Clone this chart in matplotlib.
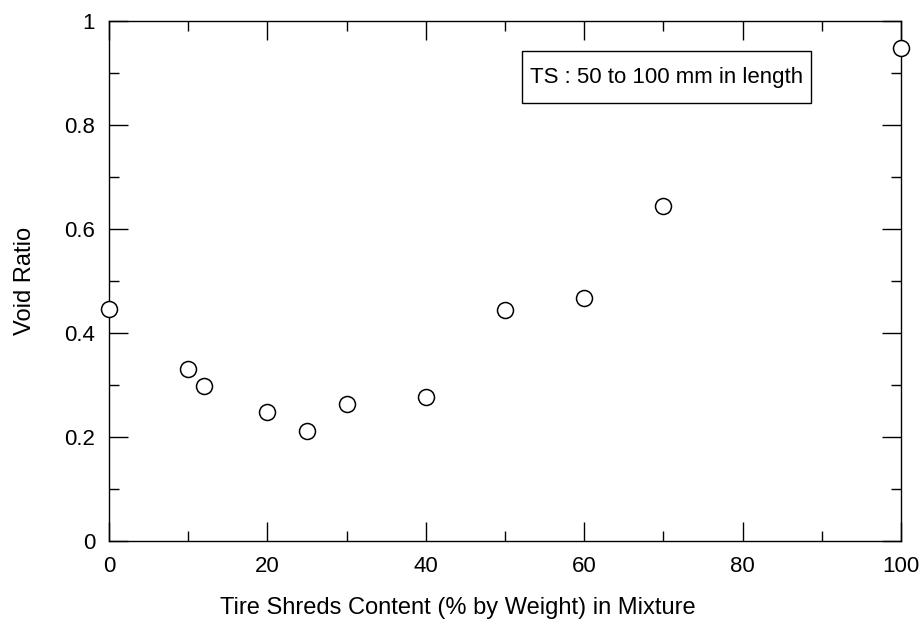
import matplotlib
matplotlib.use("Agg")
import matplotlib.pyplot as plt
from matplotlib.patches import Rectangle
from matplotlib.ticker import MultipleLocator

plt.rcParams["font.family"] = ["Liberation Sans", "DejaVu Sans"]
plt.rcParams["font.size"] = 16

# tire shred content (%) vs measured void ratio
content = [0, 10, 12, 20, 25, 30, 40, 50, 60, 70, 100]
void_ratio = [0.446, 0.331, 0.298, 0.248, 0.212, 0.263, 0.277, 0.444, 0.467, 0.644, 0.948]

fig = plt.figure(figsize=(9.24, 6.34), dpi=100)
ax = fig.add_axes([0.118, 0.147, 0.857, 0.820])

ax.plot(content, void_ratio, linestyle="none", marker="o", markersize=11.5,
        markerfacecolor="white", markeredgecolor="black", markeredgewidth=1.1,
        clip_on=False, zorder=3)

ax.set_xlim(0, 100)
ax.set_ylim(0, 1)
ax.xaxis.set_major_locator(MultipleLocator(20))
ax.xaxis.set_minor_locator(MultipleLocator(10))
ax.yaxis.set_major_locator(MultipleLocator(0.2))
ax.yaxis.set_minor_locator(MultipleLocator(0.1))
ax.yaxis.set_major_formatter(plt.FuncFormatter(lambda v, p: f"{v:g}"))

ax.tick_params(which="both", direction="in", top=True, right=True, width=1, colors="black")
ax.tick_params(which="major", length=13.5, labelsize=16)
ax.tick_params(axis="x", which="major", pad=11)
ax.tick_params(axis="y", which="major", pad=10)
ax.tick_params(which="minor", length=7)
for s in ax.spines.values():
    s.set_linewidth(1)

ax.set_xlabel("Tire Shreds Content (% by Weight) in Mixture", fontsize=17, labelpad=14)
ax.xaxis.label.set_x(0.441)
ax.set_ylabel("Void Ratio", fontsize=17, labelpad=20)

# note box
ax.add_patch(Rectangle((52.2, 0.842), 36.4, 0.100, facecolor="white",
                       edgecolor="black", linewidth=1, zorder=4))
ax.text(70.4, 0.892, "TS : 50 to 100 mm in length", fontsize=16,
        ha="center", va="center", zorder=5)

fig.savefig("out.png", dpi=100)
